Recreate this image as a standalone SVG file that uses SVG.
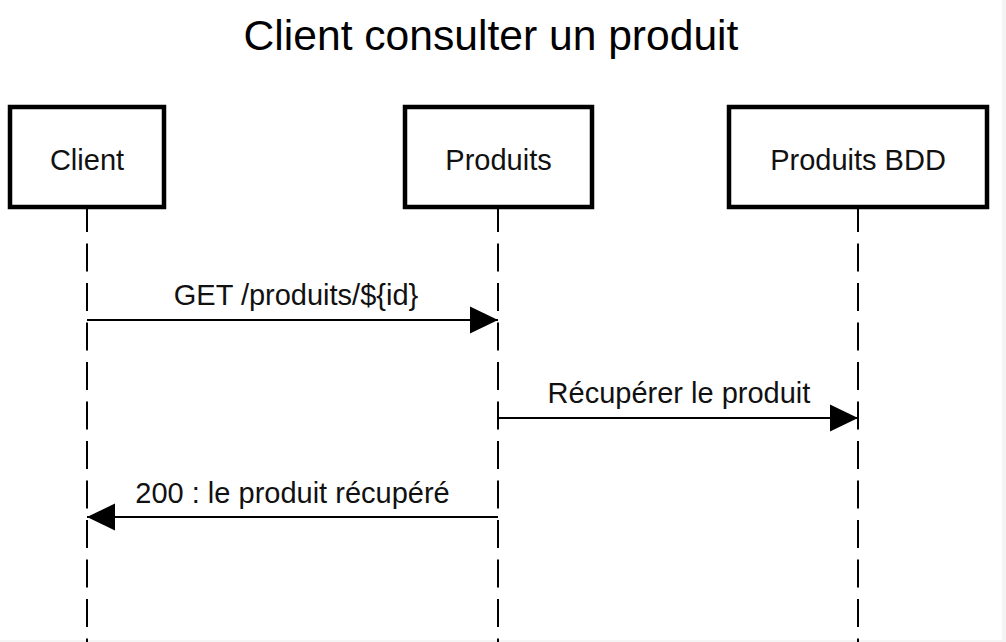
<svg xmlns="http://www.w3.org/2000/svg" width="1006" height="642" viewBox="0 0 1006 642">
  <style>
    .box { fill: #ffffff; stroke: #000000; stroke-width: 4.5; }
    .lbl { font-family: "Liberation Sans", Arial, sans-serif; font-size: 29px; fill: #111111; text-anchor: middle; }
    .title { font-family: "Liberation Sans", Arial, sans-serif; font-size: 42.6px; fill: #000000; text-anchor: middle; }
    .life { stroke: #000000; stroke-width: 2; stroke-dasharray: 28 11.5; fill: none; }
    .msg { stroke: #000000; stroke-width: 2; fill: none; }
  </style>
  <defs>
    <marker id="arrow" markerUnits="userSpaceOnUse" markerWidth="28" markerHeight="28" viewBox="0 0 27 26" refX="27" refY="13" orient="auto">
      <path d="M0,0 L27,13 L0,26 Z" fill="#000000"/>
    </marker>
  </defs>
  <rect x="0" y="0" width="1006" height="642" fill="#f4f4f4"/>
  <rect x="0" y="0" width="1002" height="640" fill="#ffffff"/>
  <text class="title" x="491" y="50">Client consulter un produit</text>
  <g id="lifelines">
    <line class="life" x1="87" y1="204" x2="87" y2="642"/>
    <line class="life" x1="498" y1="204" x2="498" y2="642"/>
    <line class="life" x1="858" y1="204" x2="858" y2="642"/>
  </g>
  <g id="client">
    <rect class="box" x="10" y="107" width="154" height="100"/>
    <text class="lbl" x="87" y="170">Client</text>
  </g>
  <g id="produits">
    <rect class="box" x="405" y="107" width="187" height="100"/>
    <text class="lbl" x="498.5" y="170">Produits</text>
  </g>
  <g id="produits-bdd">
    <rect class="box" x="729" y="107" width="258" height="100"/>
    <text class="lbl" x="858" y="170">Produits BDD</text>
  </g>
  <g id="connectors">
    <line class="msg" x1="87" y1="320" x2="498" y2="320" marker-end="url(#arrow)"/>
    <text class="lbl" x="296" y="305">GET /produits/${id}</text>
    <line class="msg" x1="498" y1="418" x2="858" y2="418" marker-end="url(#arrow)"/>
    <text class="lbl" x="679" y="403">Récupérer le produit</text>
    <line class="msg" x1="498" y1="517" x2="87" y2="517" marker-end="url(#arrow)"/>
    <text class="lbl" x="292.5" y="503">200 : le produit récupéré</text>
  </g>
</svg>
